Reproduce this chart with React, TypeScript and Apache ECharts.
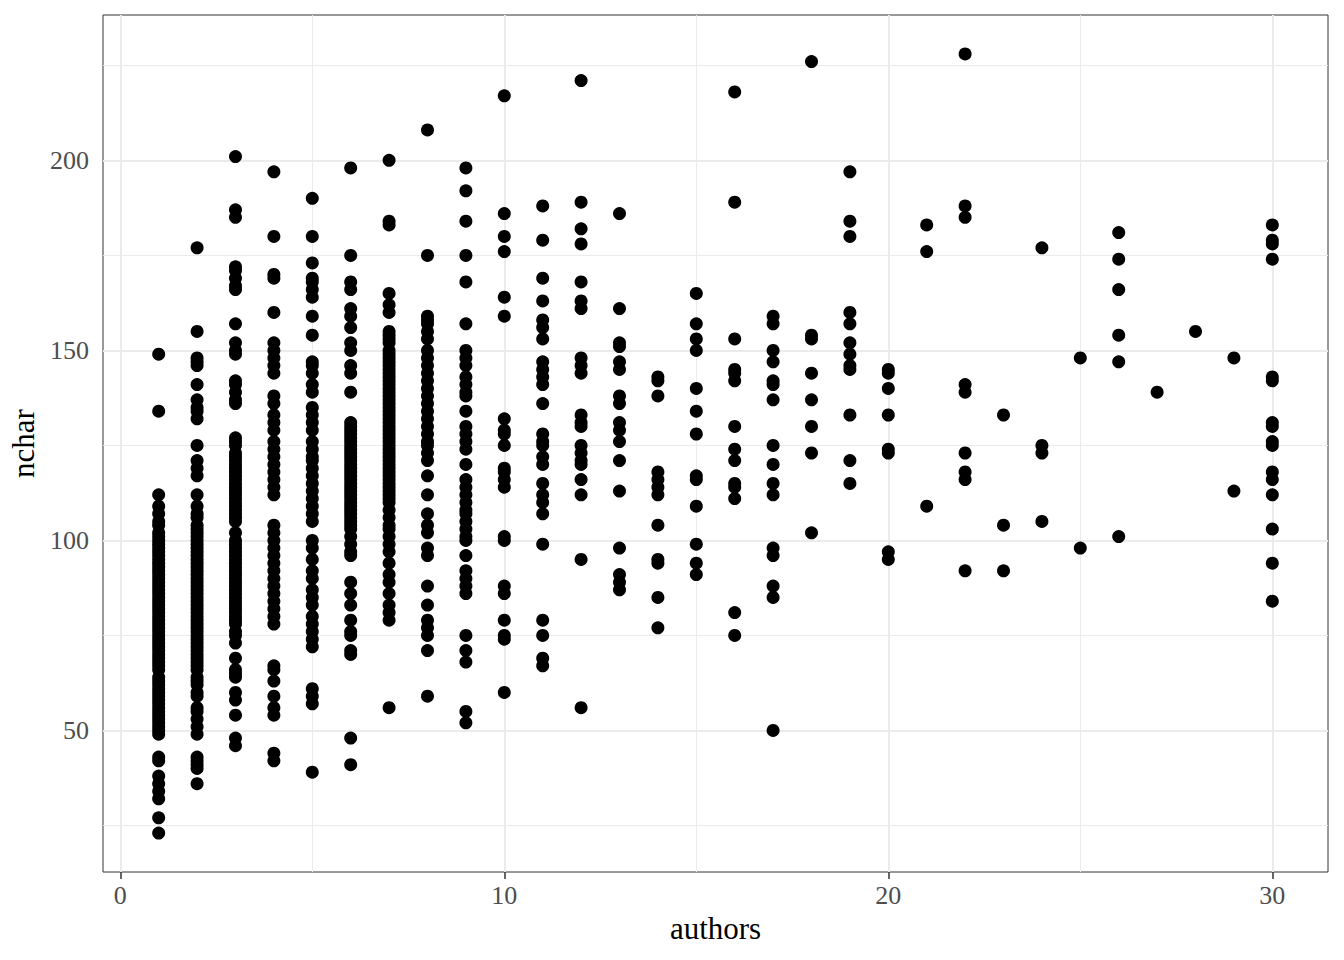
import React, { useEffect, useRef } from "react";
import * as echarts from "echarts";

// authors values (x) and nchar values (y) for each author count
const authorsValues = [1, 2, 3, 4, 5, 6, 7, 8, 9, 10, 11, 12, 13, 14, 15, 16, 17, 18, 19, 20, 21, 22, 23, 24, 25, 26, 27, 28, 29, 30];

const nchar1 = [149, 134, 112, 109, 107, 105, 104, 102, 101, 100, 99, 98, 97, 96, 95, 94, 93, 92, 91, 90, 89, 88, 87, 86, 85, 84, 83, 82, 81, 80, 79, 78, 77, 76, 75, 74, 73, 72, 71, 70, 69, 68, 67, 66, 64, 63, 62, 61, 60, 59, 58, 57, 56, 55, 54, 53, 52, 51, 50, 49, 43, 42, 38, 36, 34, 32, 27, 23];
const nchar2 = [177, 155, 148, 147, 146, 141, 137, 135, 134, 132, 125, 121, 119, 117, 112, 109, 107, 106, 104, 103, 102, 101, 100, 99, 98, 97, 96, 95, 94, 93, 92, 91, 90, 89, 88, 87, 86, 85, 84, 83, 82, 81, 80, 79, 78, 77, 76, 75, 74, 73, 72, 71, 70, 69, 68, 67, 66, 64, 63, 62, 60, 59, 56, 55, 53, 51, 49, 43, 42, 41, 40, 36];
const nchar3 = [201, 187, 185, 172, 171, 169, 167, 166, 157, 152, 150, 149, 142, 141, 139, 137, 136, 127, 126, 125, 123, 122, 121, 120, 119, 118, 117, 116, 115, 114, 113, 112, 111, 110, 109, 108, 107, 106, 105, 102, 100, 99, 98, 97, 96, 95, 94, 93, 92, 91, 90, 89, 88, 87, 86, 85, 84, 83, 82, 81, 80, 79, 78, 76, 75, 73, 69, 66, 65, 64, 60, 58, 54, 48, 46];
const nchar4 = [197, 180, 170, 169, 160, 152, 150, 148, 146, 144, 138, 136, 133, 131, 129, 126, 124, 122, 120, 118, 116, 114, 112, 104, 102, 100, 98, 96, 94, 92, 90, 88, 86, 84, 82, 80, 78, 67, 66, 63, 59, 56, 54, 44, 42];
const nchar5 = [190, 180, 173, 169, 168, 166, 164, 159, 154, 147, 146, 144, 141, 139, 135, 133, 131, 129, 126, 124, 122, 121, 119, 117, 115, 113, 111, 109, 107, 105, 100, 98, 95, 92, 90, 87, 85, 83, 80, 78, 76, 74, 72, 61, 59, 57, 39];
const nchar6 = [198, 175, 168, 166, 161, 159, 156, 152, 150, 146, 144, 139, 131, 130, 129, 128, 127, 126, 125, 124, 123, 122, 121, 120, 119, 118, 117, 116, 115, 114, 113, 112, 111, 110, 109, 108, 107, 106, 105, 104, 103, 101, 99, 97, 96, 89, 86, 83, 79, 76, 75, 71, 70, 48, 41];
const nchar7 = [200, 184, 183, 165, 162, 160, 155, 154, 153, 152, 150, 149, 148, 147, 146, 145, 144, 143, 142, 141, 140, 139, 138, 137, 136, 135, 134, 133, 132, 131, 130, 129, 128, 127, 126, 125, 124, 123, 122, 121, 120, 119, 118, 117, 116, 115, 114, 113, 112, 111, 110, 108, 106, 104, 103, 101, 99, 97, 94, 91, 89, 86, 83, 81, 79, 56];
const nchar8 = [208, 175, 159, 158, 157, 155, 153, 150, 148, 146, 144, 142, 140, 138, 136, 134, 132, 130, 128, 126, 125, 123, 121, 117, 112, 107, 104, 102, 98, 96, 88, 83, 79, 77, 75, 71, 59];
const nchar9 = [198, 192, 184, 175, 168, 157, 150, 148, 146, 143, 141, 139, 138, 134, 130, 128, 126, 124, 120, 116, 114, 112, 110, 108, 107, 105, 103, 101, 100, 96, 92, 90, 88, 86, 75, 71, 68, 55, 52];
const nchar10 = [217, 186, 180, 176, 164, 159, 132, 129, 128, 125, 119, 118, 116, 114, 101, 100, 88, 86, 79, 75, 74, 60];
const nchar11 = [188, 179, 169, 163, 158, 156, 153, 147, 145, 143, 141, 136, 128, 126, 125, 122, 120, 115, 112, 110, 107, 99, 79, 75, 69, 67];
const nchar12 = [221, 189, 182, 178, 168, 163, 161, 148, 146, 144, 133, 131, 130, 125, 123, 121, 120, 116, 112, 95, 56];
const nchar13 = [186, 161, 152, 151, 147, 145, 138, 136, 131, 129, 126, 121, 113, 98, 91, 89, 87];
const nchar14 = [143, 142, 138, 118, 116, 114, 112, 104, 95, 94, 85, 77];
const nchar15 = [165, 157, 153, 150, 140, 134, 128, 117, 116, 109, 99, 94, 91];
const nchar16 = [218, 189, 153, 145, 144, 142, 130, 124, 121, 115, 114, 111, 81, 75];
const nchar17 = [159, 157, 150, 147, 142, 141, 137, 125, 120, 115, 112, 98, 96, 88, 85, 50];
const nchar18 = [226, 154, 153, 144, 137, 130, 123, 102];
const nchar19 = [197, 184, 180, 160, 157, 152, 149, 146, 145, 133, 121, 115];
const nchar20 = [145, 144, 140, 133, 124, 123, 97, 95];
const nchar21 = [183, 176, 109];
const nchar22 = [228, 188, 185, 141, 139, 123, 118, 116, 92];
const nchar23 = [133, 104, 92];
const nchar24 = [177, 125, 123, 105];
const nchar25 = [148, 98];
const nchar26 = [181, 174, 166, 154, 147, 101];
const nchar27 = [139];
const nchar28 = [155];
const nchar29 = [148, 113];
const nchar30 = [183, 179, 178, 174, 143, 142, 131, 130, 126, 125, 118, 116, 112, 103, 94, 84];

const ncharGroups = [nchar1, nchar2, nchar3, nchar4, nchar5, nchar6, nchar7, nchar8, nchar9, nchar10, nchar11, nchar12, nchar13, nchar14, nchar15, nchar16, nchar17, nchar18, nchar19, nchar20, nchar21, nchar22, nchar23, nchar24, nchar25, nchar26, nchar27, nchar28, nchar29, nchar30];

const xTickLabels = [0, 10, 20, 30];
const yTickLabels = [50, 100, 150, 200];
const xMajorGrid = [0, 10, 20, 30];
const xMinorGrid = [5, 15, 25];
const yMajorGrid = [50, 100, 150, 200];
const yMinorGrid = [25, 75, 125, 175, 225];

const FONT = "Liberation Serif";

export default function App() {
  const ref = useRef<HTMLDivElement>(null);
  useEffect(() => {
    if (!ref.current) return;
    const chart = echarts.init(ref.current, null, { renderer: "svg" });
    const points: number[][] = [];
    authorsValues.forEach((a, i) => {
      ncharGroups[i].forEach((v) => points.push([a, v]));
    });
    const gridLine = (w: number) => ({ color: "#EBEBEB", width: w, type: "solid" as const });
    const markData = [
      ...xMinorGrid.map((v) => ({ xAxis: v, lineStyle: gridLine(1) })),
      ...yMinorGrid.map((v) => ({ yAxis: v, lineStyle: gridLine(1) })),
      ...xMajorGrid.map((v) => ({ xAxis: v, lineStyle: gridLine(2) })),
      ...yMajorGrid.map((v) => ({ yAxis: v, lineStyle: gridLine(2) })),
    ];
    chart.setOption({
      animation: false,
      backgroundColor: "#FFFFFF",
      grid: {
        left: 103,
        right: 16,
        top: 15,
        bottom: 88,
        show: true,
        borderColor: "#333333",
        borderWidth: 1,
        backgroundColor: "transparent",
        containLabel: false,
        outerBoundsMode: "none",
      },
      xAxis: {
        type: "value",
        min: -0.45,
        max: 31.45,
        name: "authors",
        nameLocation: "middle",
        nameGap: 40,
        nameTextStyle: { fontFamily: FONT, fontSize: 31, color: "#000000" },
        axisLine: { show: false },
        splitLine: { show: false },
        axisTick: { show: true, length: 7, customValues: xTickLabels, lineStyle: { color: "#333333", width: 1.5 } },
        axisLabel: { customValues: xTickLabels, margin: 10, fontFamily: FONT, fontSize: 26, color: "#4D4D4D" },
      },
      yAxis: {
        type: "value",
        min: 12.75,
        max: 238.25,
        name: "nchar",
        nameLocation: "middle",
        nameGap: 60,
        nameRotate: 90,
        nameTextStyle: { fontFamily: FONT, fontSize: 31, color: "#000000" },
        axisLine: { show: false },
        splitLine: { show: false },
        axisTick: { show: true, length: 7, customValues: yTickLabels, lineStyle: { color: "#333333", width: 1.5 } },
        axisLabel: { customValues: yTickLabels, margin: 14, fontFamily: FONT, fontSize: 26, color: "#4D4D4D" },
      },
      series: [
        {
          type: "scatter",
          data: [],
          z: 1,
          silent: true,
          markLine: {
            z: 1,
            silent: true,
            symbol: ["none", "none"],
            label: { show: false },
            animation: false,
            data: markData,
          },
        },
        {
          type: "scatter",
          z: 10,
          data: points,
          symbol: "circle",
          symbolSize: 13,
          itemStyle: { color: "#000000", opacity: 1 },
        },
      ],
    });
    return () => chart.dispose();
  }, []);
  return <div ref={ref} style={{ position: "fixed", left: 0, top: 0, width: 1344, height: 960 }} />;
}
